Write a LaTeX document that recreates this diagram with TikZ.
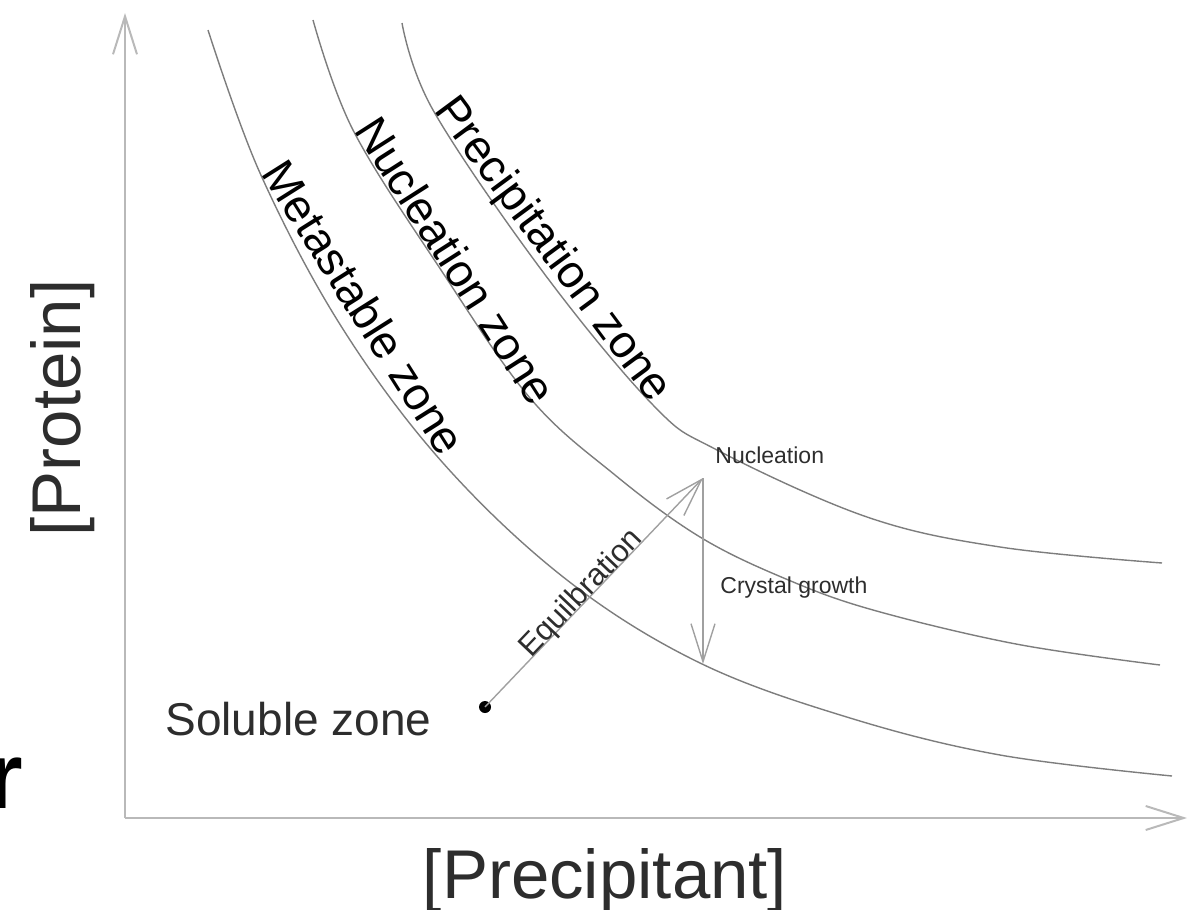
\documentclass[tikz,border=0pt]{standalone}
\usepackage{fontspec}
\setmainfont{Liberation Sans}
\usetikzlibrary{arrows.meta}
\definecolor{axisgray}{RGB}{185,185,185}
\definecolor{curvegray}{RGB}{125,125,125}
\definecolor{arrowgray}{RGB}{160,160,160}
\definecolor{labelgray}{RGB}{45,45,45}

\tikzset{
  axisline/.style={draw=axisgray, line width=1pt, -{Straight Barb[length=19pt,width=12pt]}},
  zonecurve/.style={draw=curvegray, line width=0.7pt},
  flowarrow/.style={draw=arrowgray, line width=0.7pt, -{Straight Barb[length=19pt,width=12pt]}},
  zonelabel/.style={inner sep=0pt, anchor=base west, text=black, font=\fontsize{23}{28}\selectfont},
  smalllabel/.style={inner sep=0pt, anchor=base west, text=labelgray, font=\fontsize{11.5}{14}\selectfont},
  axislabel/.style={inner sep=0pt, anchor=base, text=labelgray, font=\fontsize{34.5}{40}\selectfont}
}

\begin{document}
\begin{tikzpicture}[x=0.5pt, y=-0.5pt]
    \useasboundingbox (0,0) rectangle (1195,910);
    % axes
    \coordinate (origin) at (125,818);
    \coordinate (ytop) at (125,13);
    \coordinate (xend) at (1187,818);
    \draw[axisline] (origin) -- (ytop);
    \draw[axisline] (origin) -- (xend);
    \node[axislabel, rotate=90] (ylbl) at (80,408) {[Protein]};
    \node[axislabel] (xlbl) at (605,898) {[Precipitant]};
    % zone boundaries
    \draw[zonecurve] plot[smooth, tension=0.6] coordinates {(208,30) (260,173) (341,326) (443,463) (567,580) (700,663) (850,718) (1000,755) (1172,776)};
    \draw[zonecurve] plot[smooth, tension=0.6] coordinates {(313,20) (353,130) (441,270) (530,398) (615,475) (700,537) (786,579) (873,610) (1016,644) (1160,665)};
    \draw[zonecurve] plot[smooth, tension=0.6] coordinates {(402,23) (433,110) (543,272) (653,405) (717,450) (867,517) (1000,547) (1162,563)};
    \node[zonelabel, rotate=-57.7] (metalbl) at (260,173) {Metastable zone};
    \node[zonelabel, rotate=-57.4] (nuclzone) at (353,130) {Nucleation zone};
    \node[zonelabel, rotate=-53.5] (preclbl) at (433,110) {Precipitation zone};
    % path of a drop
    \coordinate (solpt) at (485,707);
    \coordinate (nucpt) at (703,478);
    \coordinate (growpt) at (703,664);
    \fill (solpt) circle[radius=3pt];
    \node[inner sep=0pt, anchor=base west, text=labelgray, font=\fontsize{23}{28}\selectfont] (sollbl) at (165,735) {Soluble zone};
    \draw[flowarrow] (solpt) -- node[pos=0.47, sloped, anchor=base, inner sep=0pt, text=labelgray, font=\fontsize{15.5}{18}\selectfont] (eqlbl) {Equilbration} (nucpt);
    \draw[flowarrow] (nucpt) -- (growpt);
    \node[smalllabel] (nuclbl) at (715,463) {Nucleation};
    \node[smalllabel] (growlbl) at (720,593) {Crystal growth};
    % piece of text cut at the left edge
    \node[inner sep=0pt, anchor=base east, font=\fontsize{47}{50}\selectfont\bfseries] (cutr) at (23,808) {r};
\end{tikzpicture}
\end{document}
